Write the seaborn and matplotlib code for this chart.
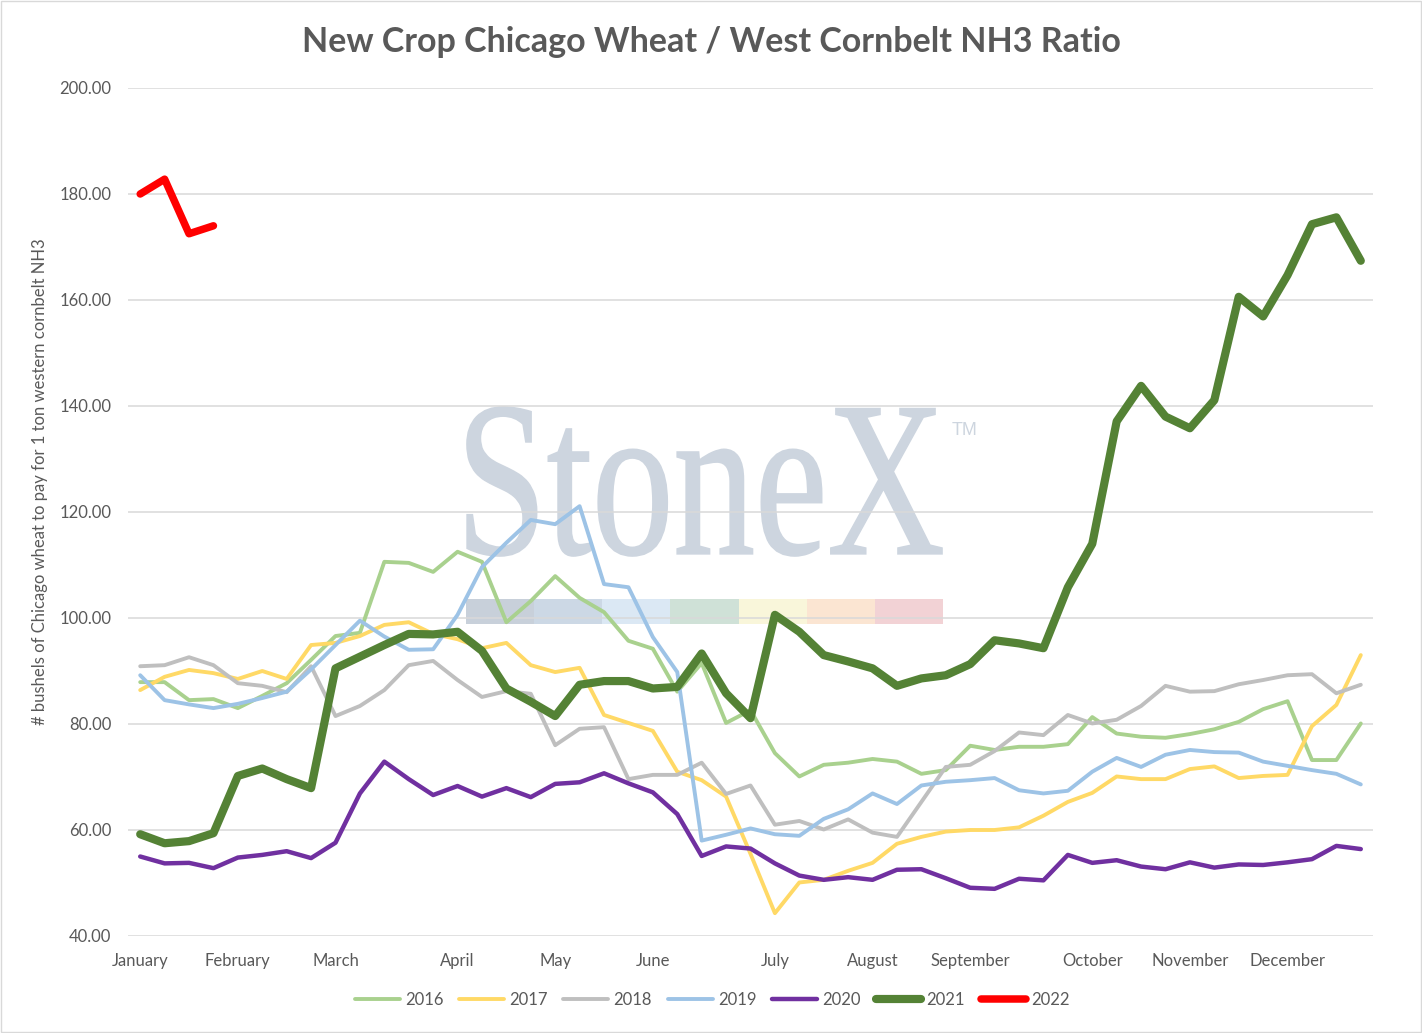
import matplotlib
matplotlib.use("Agg")
import matplotlib.pyplot as plt
import seaborn as sns
import pandas as pd
from matplotlib.textpath import TextPath
from matplotlib.patches import PathPatch, Rectangle
from matplotlib.font_manager import FontProperties
from matplotlib.transforms import Affine2D

# ---------------- data ----------------
weeks = list(range(51))
month_positions = [0, 4, 8, 13, 17, 21, 26, 30, 34, 39, 43, 47]
month_labels = ["January", "February", "March", "April", "May", "June",
                "July", "August", "September", "October", "November", "December"]

y2016 = [87.9, 87.9, 84.5, 84.7, 83.0, 85.3, 87.7, 92.1, 96.6, 97.2,
         110.6, 110.4, 108.7, 112.5, 110.6, 99.2, 103.2, 107.9, 103.8, 101.1,
         95.7, 94.2, 86.1, 91.5, 80.2, 82.6, 74.5, 70.1, 72.3, 72.7,
         73.4, 72.9, 70.6, 71.3, 75.9, 75.1, 75.7, 75.7, 76.2, 81.3,
         78.2, 77.6, 77.4, 78.1, 79.0, 80.4, 82.8, 84.3, 73.2, 73.2, 80.1]
y2017 = [86.4, 88.9, 90.2, 89.6, 88.5, 90.0, 88.5, 94.9, 95.3, 96.6,
         98.7, 99.2, 97.0, 96.0, 94.3, 95.3, 91.1, 89.8, 90.6, 81.7,
         80.2, 78.7, 71.0, 69.4, 66.3, 55.5, 44.3, 50.1, 50.6, 52.3,
         53.8, 57.4, 58.7, 59.7, 60.0, 60.0, 60.5, 62.7, 65.3, 67.0,
         70.1, 69.6, 69.6, 71.5, 72.0, 69.8, 70.2, 70.4, 79.6, 83.6, 93.0]
y2018 = [90.9, 91.1, 92.6, 91.1, 87.7, 87.2, 86.0, 90.9, 81.5, 83.4,
         86.4, 91.1, 91.9, 88.3, 85.1, 86.2, 85.7, 76.0, 79.1, 79.4,
         69.6, 70.4, 70.4, 72.7, 66.8, 68.4, 61.0, 61.7, 60.1, 62.0,
         59.5, 58.7, 65.3, 71.9, 72.3, 74.9, 78.4, 77.9, 81.7, 80.1,
         80.8, 83.4, 87.2, 86.1, 86.2, 87.5, 88.3, 89.2, 89.4, 85.8, 87.4]
y2019 = [89.2, 84.5, 83.7, 83.0, 83.8, 84.9, 86.1, 90.3, 94.9, 99.5,
         96.5, 94.0, 94.1, 100.6, 109.6, 114.2, 118.5, 117.7, 121.1, 106.4,
         105.8, 96.4, 89.8, 58.0, 59.1, 60.3, 59.2, 58.9, 62.1, 63.9,
         66.9, 64.9, 68.4, 69.1, 69.4, 69.8, 67.5, 66.9, 67.4, 71.0,
         73.6, 71.9, 74.2, 75.1, 74.7, 74.6, 72.9, 72.1, 71.3, 70.6, 68.6]
y2020 = [55.0, 53.7, 53.8, 52.8, 54.8, 55.3, 56.0, 54.7, 57.6, 66.9,
         72.9, 69.6, 66.6, 68.3, 66.3, 67.9, 66.2, 68.7, 69.0, 70.7,
         68.8, 67.1, 63.0, 55.1, 56.9, 56.5, 53.7, 51.4, 50.6, 51.1,
         50.6, 52.5, 52.6, 50.9, 49.1, 48.9, 50.8, 50.5, 55.3, 53.8,
         54.3, 53.1, 52.6, 53.9, 52.9, 53.5, 53.4, 53.9, 54.5, 57.0, 56.4]
y2021 = [59.2, 57.5, 57.9, 59.4, 70.2, 71.6, 69.6, 67.9, 90.5, 92.7,
         94.9, 97.0, 96.9, 97.4, 93.8, 86.7, 84.2, 81.5, 87.4, 88.1,
         88.1, 86.7, 87.0, 93.3, 85.8, 81.1, 100.6, 97.4, 93.0, 91.8,
         90.5, 87.2, 88.6, 89.2, 91.3, 95.8, 95.2, 94.3, 105.8, 114.0,
         137.1, 143.8, 138.0, 135.8, 141.1, 160.6, 156.9, 164.7, 174.3, 175.6, 167.4]
y2022 = [180.0, 182.8, 172.5, 174.0]

series_names = ["2016", "2017", "2018", "2019", "2020", "2021", "2022"]
series_values = [y2016, y2017, y2018, y2019, y2020, y2021, y2022]

title_text = "New Crop Chicago Wheat / West Cornbelt NH3 Ratio"
ylabel_text = "# bushels of Chicago wheat to pay for 1 ton western cornbelt NH3"
y_ticks = [40, 60, 80, 100, 120, 140, 160, 180, 200]

# ---------------- style ----------------
colors = {"2016": "#a9d18e", "2017": "#ffd966", "2018": "#bfbfbf", "2019": "#9dc3e6",
          "2020": "#7030a0", "2021": "#548235", "2022": "#ff0000"}
widths = {"2016": 2.8, "2017": 2.8, "2018": 2.8, "2019": 2.8,
          "2020": 3.2, "2021": 5.9, "2022": 5.4}
text_color = "#595959"

sns.set_style("white")
plt.rcParams["font.family"] = ["Lato", "DejaVu Sans"]

W, H = 1422, 1033
AX_L, AX_R, AX_T, AX_B = 128, 1373, 88, 936
fig = plt.figure(figsize=(W / 100, H / 100), dpi=100)
ax = fig.add_axes([AX_L / W, 1 - AX_B / H, (AX_R - AX_L) / W, (AX_B - AX_T) / H])

# long-form frame
rows = []
for name, vals in zip(series_names, series_values):
    for w, v in zip(weeks, vals):
        rows.append({"week": w, "value": v, "year": name})
df = pd.DataFrame(rows)

for name in series_names:
    sub = df[df["year"] == name]
    sns.lineplot(data=sub, x="week", y="value", ax=ax, color=colors[name],
                 linewidth=widths[name], label=name, zorder=3,
                 solid_capstyle="round", solid_joinstyle="round")

ax.set_xlim(-0.5, 50.5)
ax.set_ylim(40, 200)
ax.set_yticks(y_ticks)
ax.set_yticklabels([f"{t:.2f}" for t in y_ticks])
ax.set_xticks(month_positions)
ax.set_xticklabels(month_labels)
ax.tick_params(axis="both", length=0, labelsize=12, colors=text_color)
ax.tick_params(axis="y", pad=12)
ax.tick_params(axis="x", pad=12.5)
ax.set_xlabel("")
ax.set_ylabel("")
for s in ax.spines.values():
    s.set_visible(False)
ax.set_axisbelow(True)
ax.yaxis.grid(True, color="#d9d9d9", linewidth=1.1)
ax.xaxis.grid(False)
ax.get_legend().remove()

# ---------------- watermark ----------------
fp = FontProperties(family="Liberation Serif")
tp = TextPath((0, 0), "StoneX", size=100, prop=fp)
ext = tp.get_extents()
tx0, tx1, ty_top, ty_bot = 467, 942, 407, 556
sx = (tx1 - tx0) / ext.width
sy = (ty_bot - ty_top) / ext.height
tr = (Affine2D().translate(-ext.x0, -ext.y0).scale(sx, sy)
      .translate(tx0, H - ty_bot).scale(1 / W, 1 / H) + fig.transFigure)
ax.add_patch(PathPatch(tp, transform=tr, facecolor="#cdd5df", edgecolor="#cdd5df",
                       linewidth=1.2, zorder=0.2, clip_on=False))
fig.text(952 / W, 1 - 422 / H, "TM", fontsize=13, color="#cdd5df",
         family="Liberation Sans", ha="left", va="top", zorder=0.2)
bar_colors = ["#c8d0da", "#ccd8e5", "#dbe8f4", "#cfe1d7", "#f9f6da", "#fbe5d2", "#f2d2d5"]
bx0, bx1, by0, by1 = 466, 943, 599, 624
bw = (bx1 - bx0) / len(bar_colors)
for k, c in enumerate(bar_colors):
    ax.add_patch(Rectangle(((bx0 + k * bw) / W, 1 - by1 / H), bw / W, (by1 - by0) / H,
                           transform=fig.transFigure, facecolor=c, edgecolor="none",
                           zorder=0.2, clip_on=False))

# ---------------- texts ----------------
fig.text(0.5, 1 - 42 / H, title_text, ha="center", va="center", fontsize=24.5,
         fontweight="bold", color=text_color)
fig.text(40 / W, 1 - 482 / H, ylabel_text, rotation=90, ha="center", va="center",
         fontsize=12, color=text_color)

handles, labels = ax.get_legend_handles_labels()
leg = fig.legend(handles, labels, loc="center", bbox_to_anchor=(712 / W, 1 - 1000 / H),
                 ncol=7, frameon=False, fontsize=12, handlelength=2.7,
                 handletextpad=0.3, columnspacing=0.95, labelcolor=text_color)

fig.patches.append(Rectangle((0.0005, 0.0005), 0.999, 0.999, transform=fig.transFigure,
                             fill=False, edgecolor="#d9d9d9", linewidth=1.0))

fig.savefig("out.png", dpi=100)
